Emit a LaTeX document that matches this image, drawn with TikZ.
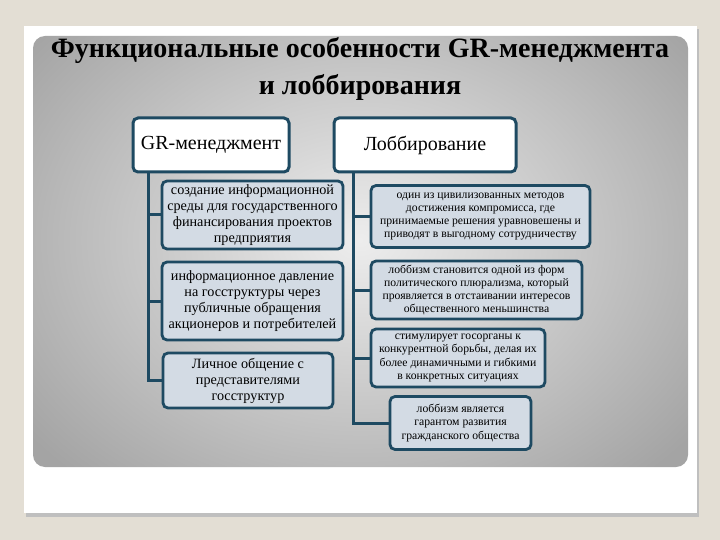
\documentclass[tikz,border=0pt]{standalone}
\usepackage{fontspec}
\setmainfont{Liberation Serif}
\definecolor{bgout}{HTML}{E3DED4}
\definecolor{edge}{HTML}{1E4A62}
\definecolor{boxfill}{HTML}{D3DBE4}
\definecolor{panelin}{HTML}{EDEDED}
\definecolor{panelout}{HTML}{A4A4A4}
\tikzset{
  headbox/.style={draw=edge, line width=3pt, rounded corners=5pt, fill=white, inner sep=1pt, align=center, font=\fontsize{20}{24}\selectfont},
  itembox/.style={draw=edge, line width=2.8pt, rounded corners=5pt, fill=boxfill, inner sep=1pt, align=center},
  lfont/.style={font=\fontsize{14.2}{16}\selectfont},
  rfont/.style={font=\fontsize{11.7}{13.1}\selectfont},
  link/.style={draw=edge, line width=3pt}
}
\begin{document}
\begin{tikzpicture}[x=1pt,y=-1pt]
\useasboundingbox (0,0) rectangle (720,540);
\fill[bgout] (0,0) rectangle (720,540);
% card with shadow
\fill[black!25] (26,29) rectangle (699,517);
\fill[white] (24,26) rectangle (697,513);
% gray panel
\begin{scope}
\clip[rounded corners=12pt] (33,36) rectangle (688,467);
\shade[inner color=panelin, outer color=panelout] (-60,-80) rectangle (780,560);
\end{scope}
% title
\node[font=\fontsize{28}{32}\selectfont\bfseries] (t1) at (360,51) {Функциональные особенности GR-менеджмента};
\node[font=\fontsize{28}{32}\selectfont\bfseries] (t2) at (360,87) {и лоббирования};
% headers
\node[headbox, minimum width=156pt, minimum height=54pt] (gr) at (211,145) {GR-менеджмент};
\node[headbox, minimum width=182pt, minimum height=54pt] (lob) at (425,145) {Лоббирование};
% left items
\node[itembox, lfont, minimum width=181pt, minimum height=68pt] (l1) at (252.5,215) {создание информационной\\среды для государственного\\финансирования проектов\\предприятия};
\node[itembox, lfont, minimum width=181pt, minimum height=78pt] (l2) at (252.5,301) {информационное давление\\на госструктуры  через\\публичные обращения\\акционеров и потребителей};
\node[itembox, lfont, minimum width=170pt, minimum height=55pt] (l3) at (248,380.5) {Личное общение с\\представителями\\госструктур};
% right items
\node[itembox, rfont, minimum width=219pt, minimum height=62pt] (r1) at (480.5,216.5) {один из цивилизованных методов\\достижения  компромисса, где\\принимаемые решения уравновешены и\\приводят в выгодному сотрудничеству};
\node[itembox, rfont, minimum width=211pt, minimum height=58pt] (r2) at (476.5,290) {лоббизм становится одной из форм\\политического плюрализма, который\\проявляется в отстаивании интересов\\общественного меньшинства};
\node[itembox, rfont, minimum width=174pt, minimum height=58pt] (r3) at (458,358) {стимулирует госорганы к\\конкурентной борьбы, делая их\\более динамичными и гибкими\\в конкретных ситуациях};
\node[itembox, rfont, minimum width=141pt, minimum height=53pt] (r4) at (460.5,423) {лоббизм является\\гарантом развития\\гражданского общества};
% connectors
\coordinate (lt) at (148,172);
\coordinate (rt) at (353,172);
\draw[link] (lt) |- (l3.west);
\draw[link] (lt |- l1.west) -- (l1.west);
\draw[link] (lt |- l2.west) -- (l2.west);
\draw[link] (rt) |- (r4.west);
\draw[link] (rt |- r1.west) -- (r1.west);
\draw[link] (rt |- r2.west) -- (r2.west);
\draw[link] (rt |- r3.west) -- (r3.west);
\end{tikzpicture}
\end{document}
